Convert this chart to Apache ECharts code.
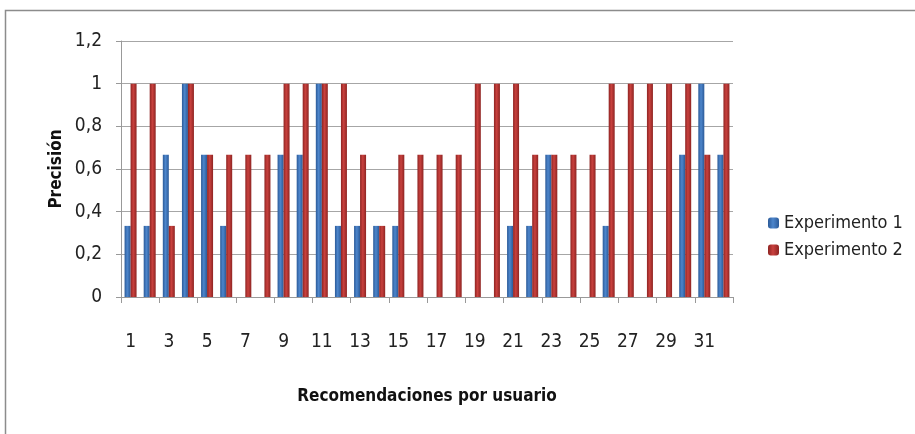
<!DOCTYPE html>
<html>
<head>
<meta charset="utf-8">
<script src="https://cdn.jsdelivr.net/npm/echarts@6/dist/echarts.min.js"></script>
<style>
  html, body { margin: 0; padding: 0; background: #fff; }
  #main { width: 915px; height: 434px; }
</style>
</head>
<body>
<div id="main"></div>
<script>
var categories = [];
for (var i = 1; i <= 32; i++) categories.push(String(i));

var t = 1 / 3, d = 2 / 3;
var experimento1 = [t, t, d, 1, d, t, 0, 0, d, d, 1, t, t, t, t, 0,
                    0, 0, 0, 0, t, t, d, 0, 0, t, 0, 0, 0, d, 1, d];
var experimento2 = [1, 1, t, 1, d, d, d, d, 1, 1, 1, 1, d, t, d, d,
                    d, d, 1, 1, 1, d, d, d, d, 1, 1, 1, 1, 1, d, 1];

var font = "'Liberation Sans Narrow', 'DejaVu Sans Condensed', sans-serif";

function grad(dark, light) {
  return new echarts.graphic.LinearGradient(0, 0, 1, 0, [
    { offset: 0, color: dark },
    { offset: 0.45, color: light },
    { offset: 1, color: dark }
  ]);
}

var myChart = echarts.init(document.getElementById('main'));

var option = {
  animation: false,
  textStyle: { fontFamily: font },
  graphic: [{
    type: 'rect',
    shape: { x: 5.5, y: 10.5, width: 960, height: 500 },
    style: { fill: 'none', stroke: '#8c8c8c', lineWidth: 1.5 },
    silent: true
  }],
  grid: { left: 121, right: 182, top: 41, bottom: 137 },
  legend: {
    orient: 'vertical',
    left: 763,
    top: 209,
    itemWidth: 11,
    itemHeight: 11,
    itemGap: 9,
    textStyle: { fontSize: 18, color: '#222', fontFamily: font },
    data: ['Experimento 1', 'Experimento 2']
  },
  xAxis: {
    type: 'category',
    data: categories,
    name: 'Recomendaciones por usuario',
    nameLocation: 'middle',
    nameMoveOverlap: false,
    nameGap: 91,
    nameTextStyle: { fontSize: 17, fontWeight: 'bold', color: '#111', fontFamily: font },
    axisLine: { lineStyle: { color: '#999' } },
    axisTick: { show: true, length: 6, lineStyle: { color: '#999' } },
    axisLabel: { interval: 1, margin: 36, fontSize: 19, color: '#222' }
  },
  yAxis: {
    type: 'value',
    min: 0,
    max: 1.2,
    interval: 0.2,
    name: 'Precisión',
    nameLocation: 'middle',
    nameMoveOverlap: false,
    nameGap: 56,
    nameTextStyle: { fontSize: 17, fontWeight: 'bold', color: '#111', fontFamily: font },
    axisLine: { show: true, lineStyle: { color: '#999' } },
    axisTick: { show: true, length: 5, lineStyle: { color: '#999' } },
    splitLine: { lineStyle: { color: '#a6a6a6' } },
    axisLabel: {
      margin: 19,
      fontSize: 19,
      color: '#222',
      formatter: function (v) {
        return String(Math.round(v * 10) / 10).replace('.', ',');
      }
    }
  },
  series: [
    {
      name: 'Experimento 1',
      type: 'bar',
      barWidth: 6,
      barGap: '0%',
      itemStyle: { color: grad('#2b5a98', '#4d86cc') },
      data: experimento1
    },
    {
      name: 'Experimento 2',
      type: 'bar',
      barWidth: 6,
      barGap: '0%',
      itemStyle: { color: grad('#8e2422', '#c9413e') },
      data: experimento2
    }
  ]
};

myChart.setOption(option);
</script>
</body>
</html>
